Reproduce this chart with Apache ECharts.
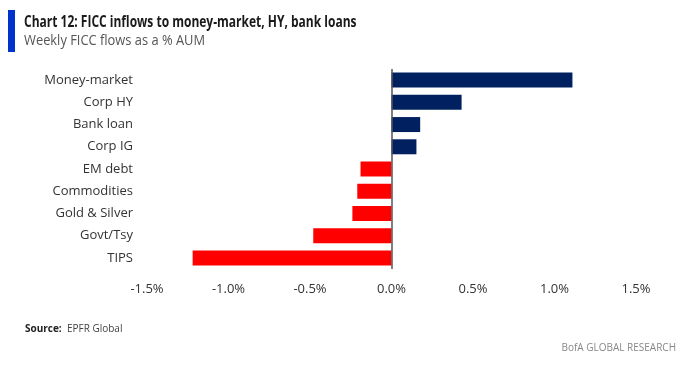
<!DOCTYPE html>
<html>
<head>
<meta charset="utf-8">
<script src="https://cdn.jsdelivr.net/npm/echarts@6/dist/echarts.min.js"></script>
<style>
  html, body { margin: 0; padding: 0; background: #fff; }
  #chart { width: 700px; height: 377px; }
</style>
</head>
<body>
<div id="chart"></div>
<script>
// Weekly FICC flows, % of AUM
var categories = ['Money-market', 'Corp HY', 'Bank loan', 'Corp IG', 'EM debt',
    'Commodities', 'Gold & Silver', 'Govt/Tsy', 'TIPS'];
var flows = [1.11, 0.43, 0.176, 0.153, -0.19, -0.21, -0.24, -0.48, -1.22];
var xTicks = [-1.5, -1.0, -0.5, 0.0, 0.5, 1.0, 1.5];

var navy = '#002060';
var red = '#ff0000';
var fontName = '"Open Sans", "Noto Sans", sans-serif';

var chart = echarts.init(document.getElementById('chart'));

var option = {
    backgroundColor: '#fff',
    animation: false,
    textStyle: { fontFamily: fontName },
    graphic: [
        { type: 'rect', shape: { x: 8, y: 10, width: 7, height: 42 }, style: { fill: '#0033cc' } },
        // title font in the original is a condensed face, squeeze it horizontally
        { type: 'text', x: 24, y: 14, scaleX: 0.75, style: {
            text: 'Chart 12: FICC inflows to money-market, HY, bank loans',
            font: 'bold 16px ' + fontName, fill: '#1a1a1a' } },
        { type: 'text', x: 24, y: 34, scaleX: 0.92, style: {
            text: 'Weekly FICC flows as a % AUM',
            font: '14px ' + fontName, fill: '#555' } },
        { type: 'text', left: 25, top: 324, style: {
            rich: {
                b: { font: 'bold 10px ' + fontName, fill: '#222' },
                n: { font: '10px ' + fontName, fill: '#444' }
            },
            text: '{b|Source:}{n|  EPFR Global}' } },
        { type: 'text', right: 24, top: 343, style: {
            text: 'BofA GLOBAL RESEARCH',
            font: '10px ' + fontName, fill: '#888' } }
    ],
    grid: { left: 147, right: 64, top: 69, bottom: 108, containLabel: false },
    xAxis: {
        type: 'value',
        min: xTicks[0],
        max: xTicks[xTicks.length - 1],
        interval: 0.5,
        axisLine: { show: false },
        axisTick: { show: false },
        splitLine: { show: false },
        axisLabel: {
            margin: 14,
            color: '#333',
            fontSize: 13,
            formatter: function (v) { return v.toFixed(1) + '%'; }
        }
    },
    yAxis: {
        type: 'category',
        data: categories,
        inverse: true,
        axisLine: { show: false },
        axisTick: { show: false },
        axisLabel: { color: '#333', fontSize: 13, margin: 14 }
    },
    series: [{
        type: 'bar',
        barWidth: 15,
        data: flows.map(function (v) {
            return { value: v, itemStyle: { color: v >= 0 ? navy : red } };
        }),
        markLine: {
            silent: true,
            symbol: 'none',
            label: { show: false },
            lineStyle: { color: '#555', width: 1.5, type: 'solid' },
            data: [{ xAxis: 0 }]
        }
    }]
};

chart.setOption(option);
</script>
</body>
</html>
